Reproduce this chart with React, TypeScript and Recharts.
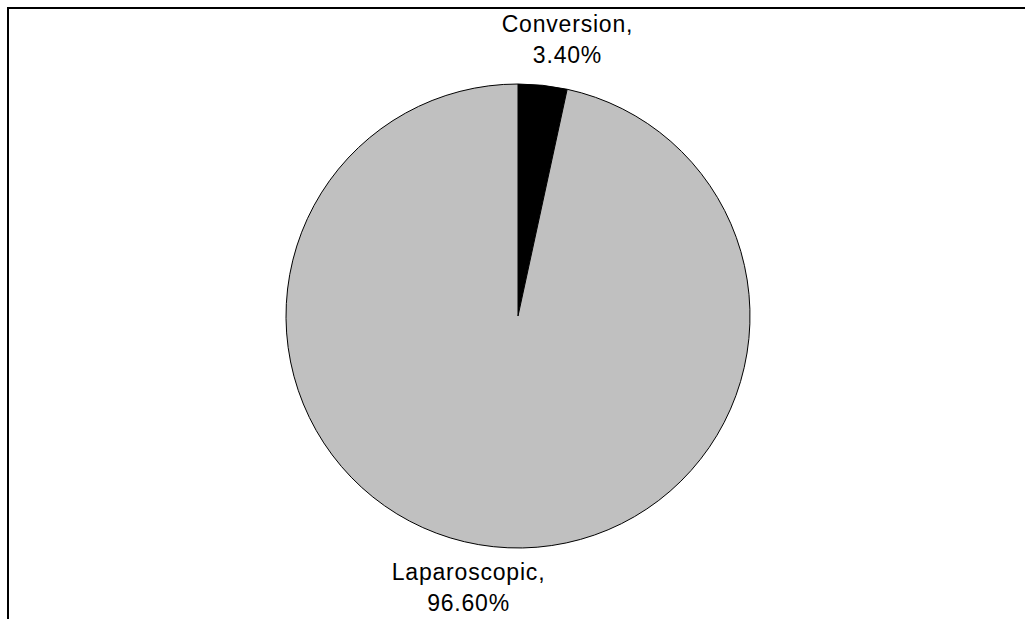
import { PieChart, Pie, Cell } from "recharts";

const categories = ["Conversion", "Laparoscopic"];
const shares = [3.4, 96.6];

const SLICE_COLORS = ["#000000", "#C0C0C0"];
const FONT = "'Liberation Sans', Arial, sans-serif";
const RADIAN = Math.PI / 180;

const data = categories.map((name, i) => ({ name, value: shares[i] }));

function SliceLabel(props: any) {
  const { cx, cy, midAngle, outerRadius, name, value } = props;
  const cos = Math.cos(midAngle * RADIAN);
  const sin = Math.sin(midAngle * RADIAN);
  // Excel-style outside label: two lines, pushed out along the slice
  const x = cx + cos * outerRadius * 2;
  const y = cy - sin * (outerRadius + 44);
  return (
    <text
      x={x}
      y={y}
      textAnchor="middle"
      fill="#000"
      style={{ fontFamily: FONT, fontSize: 23, letterSpacing: 0.8 }}
    >
      <tspan x={x} dy={-10}>{`${name},`}</tspan>
      <tspan x={x} dy={31}>{`${Number(value).toFixed(2)}%`}</tspan>
    </text>
  );
}

export default function App() {
  return (
    <div
      style={{
        position: "absolute",
        left: 0,
        top: 0,
        width: 1025,
        height: 619,
        overflow: "hidden",
        background: "#fff",
      }}
    >
      <div
        style={{
          position: "absolute",
          left: 7,
          top: 7,
          width: 1100,
          height: 700,
          borderTop: "2px solid #000",
          borderLeft: "2px solid #000",
        }}
      />
      <div style={{ position: "absolute", left: 0, top: 0 }}>
        <PieChart
          width={1025}
          height={619}
          margin={{ top: 0, right: 0, bottom: 0, left: 0 }}
        >
          <Pie
            data={data}
            dataKey="value"
            nameKey="name"
            cx={518}
            cy={316}
            outerRadius={232}
            startAngle={90}
            endAngle={-270}
            stroke="#000"
            strokeWidth={1}
            label={SliceLabel}
            labelLine={false}
            isAnimationActive={false}
          >
            {data.map((d, i) => (
              <Cell key={d.name} fill={SLICE_COLORS[i]} />
            ))}
          </Pie>
        </PieChart>
      </div>
    </div>
  );
}
